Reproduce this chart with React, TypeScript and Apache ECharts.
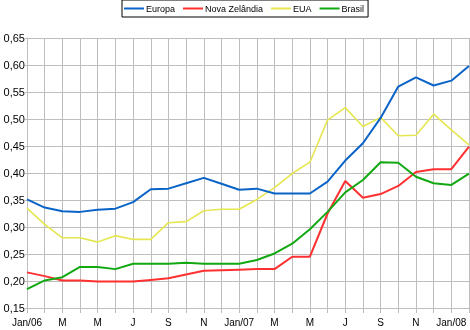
import React, { useEffect, useRef } from "react";
import * as echarts from "echarts";

const months: string[] = [
  "Jan/06", "F", "M", "A", "M", "J", "J", "A", "S", "O", "N", "D",
  "Jan/07", "F", "M", "A", "M", "J", "J", "A", "S", "O", "N", "D",
  "Jan/08", "F",
];

const europa: number[] = [
  0.351, 0.336, 0.329, 0.328, 0.332, 0.334, 0.346, 0.37, 0.371, 0.381, 0.391, 0.38,
  0.369, 0.371, 0.362, 0.362, 0.362, 0.384, 0.423, 0.455, 0.502, 0.56, 0.577, 0.562,
  0.571, 0.598,
];

const novaZelandia: number[] = [
  0.216, 0.209, 0.201, 0.201, 0.199, 0.199, 0.199, 0.202, 0.205, 0.212, 0.219, 0.22,
  0.221, 0.222, 0.222, 0.245, 0.245, 0.325, 0.385, 0.354, 0.361, 0.376, 0.402, 0.407,
  0.407, 0.449,
];

const eua: number[] = [
  0.335, 0.305, 0.28, 0.28, 0.272, 0.284, 0.277, 0.277, 0.308, 0.31, 0.33, 0.333,
  0.333, 0.351, 0.373, 0.399, 0.42, 0.498, 0.521, 0.486, 0.503, 0.469, 0.47, 0.509,
  0.48, 0.452,
];

const brasil: number[] = [
  0.185, 0.201, 0.207, 0.226, 0.226, 0.222, 0.232, 0.232, 0.232, 0.234, 0.232, 0.232,
  0.232, 0.239, 0.251, 0.269, 0.296, 0.328, 0.364, 0.387, 0.42, 0.419, 0.393, 0.381,
  0.378, 0.399,
];

const seriesNames = ["Europa", "Nova Zelândia", "EUA", "Brasil"];
const seriesColors = ["#0a64c8", "#ff3030", "#e6e650", "#12a812"];

export default function App() {
  const ref = useRef<HTMLDivElement>(null);
  useEffect(() => {
    if (!ref.current) return;
    const chart = echarts.init(ref.current, null, { renderer: "svg" });
    const font = "Liberation Sans";
    const dataSets = [europa, novaZelandia, eua, brasil];
    chart.setOption({
      animation: false,
      textStyle: { fontFamily: font },
      legend: {
        left: 122,
        top: 0,
        orient: "horizontal",
        padding: [4, 4, 4, 2],
        itemGap: 8,
        itemWidth: 20,
        itemHeight: 2,
        icon: "rect",
        borderColor: "#000",
        borderWidth: 1,
        borderRadius: 0,
        textStyle: { fontFamily: font, fontSize: 9, color: "#000", padding: [0, 0, 0, -3] },
        data: seriesNames,
      },
      grid: { left: 27, right: 1, top: 38, bottom: 22, containLabel: false },
      xAxis: {
        type: "category",
        data: months,
        boundaryGap: false,
        axisLine: { lineStyle: { color: "#bdbdbd", width: 1 } },
        axisTick: { show: true, interval: 0, length: 5, lineStyle: { color: "#bdbdbd" } },
        axisLabel: {
          interval: 1,
          color: "#000",
          fontFamily: font,
          fontSize: 10,
          margin: 9,
          hideOverlap: false,
        },
        splitLine: { show: true, interval: 0, lineStyle: { color: "#bdbdbd", width: 1 } },
      },
      yAxis: {
        type: "value",
        min: 0.15,
        max: 0.65,
        interval: 0.05,
        axisLine: { show: true, lineStyle: { color: "#bdbdbd", width: 1 } },
        axisTick: { show: true, length: 2, lineStyle: { color: "#bdbdbd" } },
        axisLabel: {
          color: "#000",
          fontFamily: font,
          fontSize: 11,
          margin: 2,
          formatter: (v: number) => v.toFixed(2).replace(".", ","),
        },
        splitLine: { show: true, lineStyle: { color: "#bdbdbd", width: 1 } },
      },
      series: dataSets.map((d, i) => ({
        name: seriesNames[i],
        type: "line",
        data: d,
        symbol: "none",
        color: seriesColors[i],
        lineStyle: { width: i === 2 ? 1.6 : 2, color: seriesColors[i] },
        z: [4, 3, 2, 5][i],
      })),
    });
    return () => chart.dispose();
  }, []);
  return (
    <div
      ref={ref}
      style={{ position: "fixed", left: 0, top: 0, width: 470, height: 330 }}
    />
  );
}
